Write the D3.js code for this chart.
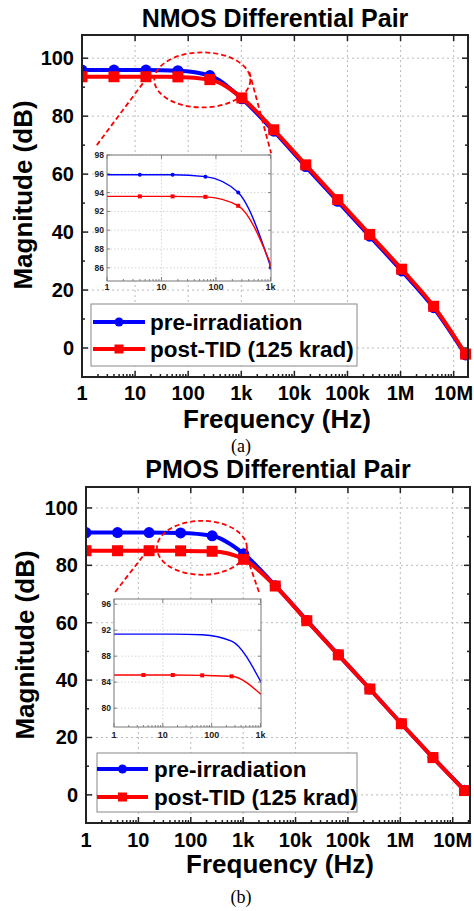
<!DOCTYPE html>
<html>
<head>
<meta charset="utf-8">
<script src="https://cdn.jsdelivr.net/npm/d3@7"></script>
<style>
  body { margin: 0; background: #fff; }
  text { font-family: "Liberation Sans", Arial, sans-serif; font-weight: bold; }
</style>
</head>
<body>
<div id="viz"></div>
<script>
// frequency points (Hz), powers of 4
var freqs = [1, 4, 16, 64, 256, 1024, 4096, 16384, 65536, 262144, 1048576, 4194304, 16777216];

// NMOS differential pair, magnitude (dB)
var nmosPre  = [95.9, 95.9, 95.9, 95.7, 94.0, 86.0, 74.8, 62.6, 50.6, 38.6, 26.6, 13.9, -2.4];
var nmosPost = [93.6, 93.6, 93.6, 93.55, 92.6, 86.3, 75.3, 63.2, 51.2, 39.2, 27.2, 14.4, -2.1];

// PMOS differential pair, magnitude (dB)
var pmosPre  = [91.4, 91.4, 91.4, 91.3, 90.3, 84.0, 72.9, 60.8, 48.8, 36.9, 24.8, 13.0, 1.6];
var pmosPost = [85.1, 85.1, 85.1, 85.05, 84.9, 82.1, 72.8, 60.7, 48.8, 36.9, 24.8, 13.0, 1.5];

var seriesNames = ["pre-irradiation", "post-TID (125 krad)"];

var xTickValues = [1, 10, 100, 1e3, 1e4, 1e5, 1e6, 1e7];
var xTickLabels = ["1", "10", "100", "1k", "10k", "100k", "1M", "10M"];
var yTicks = [0, 20, 40, 60, 80, 100];
var yMinorTicks = [10, 30, 50, 70, 90];

var insetXTickValues = [1, 10, 100, 1000];
var insetXTickLabels = ["1", "10", "100", "1k"];
var nmosInsetYTicks = [86, 88, 90, 92, 94, 96, 98];
var pmosInsetYTicks = [80, 84, 88, 92, 96];

var width = 474,
    height = 911;
var blue = "#0000ff", red = "#ff0000";

var svg = d3.select("#viz")
  .append("svg")
    .attr("width", width)
    .attr("height", height);

svg.append("rect")
    .attr("width", width)
    .attr("height", height)
    .style("fill", "white");

var panels = [
  {
    id: "n", title: "NMOS Differential Pair", caption: "(a)",
    pre: nmosPre, post: nmosPost,
    left: 82, right: 468, top: 35, bottom: 377,
    xMax: Math.pow(10, 7.27), yDomain: [-10, 108],
    titleY: 27, tickY: 400, xTitleY: 428, capY: 452, yTitleX: 23, yTitleCY: 195,
    legend: {x: 91, y: 304, w: 266, h: 62, lx0: 93, lx1: 145, tx: 150, rows: [322, 349]},
    inset: {left: 107, right: 271, top: 155, bottom: 281, yDomain: [84.6, 98], yTicks: nmosInsetYTicks,
            preMarks: [1, 2, 3, 4, 5], postMarks: [1, 2, 3, 4, 5], labelY: 290},
    ellipse: {f: [23, 1480], db: [83, 102]},
    zoomLines: [[[1.9, 70], [17, 93.4]], [[1420, 95.2], [3650, 67.2]]]
  },
  {
    id: "p", title: "PMOS Differential Pair", caption: "(b)",
    pre: pmosPre, post: pmosPost,
    left: 86, right: 470, top: 487, bottom: 823,
    xMax: Math.pow(10, 7.33), yDomain: [-9.8, 107.3],
    titleY: 478, tickY: 847, xTitleY: 873, capY: 903, yTitleX: 25, yTitleCY: 645,
    legend: {x: 97, y: 753, w: 260, h: 59, lx0: 97, lx1: 148, tx: 154, rows: [769, 797]},
    inset: {left: 114, right: 261, top: 599, bottom: 727, yDomain: [77.1, 96.8], yTicks: pmosInsetYTicks,
            preMarks: [], postMarks: [1, 2, 3, 4], labelY: 738},
    ellipse: {f: [22.6, 1180], db: [76.7, 95.5]},
    zoomLines: [[[3.6, 70.7], [16.7, 86.4]], [[1180, 82.9], [2000, 70.7]]]
  }
];

function minorLogTicks(max) {
  var out = [];
  for (var d = 0; d < 8; d++) {
    for (var k = 2; k <= 9; k++) {
      var f = k * Math.pow(10, d);
      if (f < max) out.push(f);
    }
  }
  return out;
}

function marker(sel, type, size, color) {
  if (type === "circle") {
    sel.append("circle").attr("r", size / 2).style("fill", color);
  } else {
    sel.append("rect")
      .attr("x", -size / 2).attr("y", -size / 2)
      .attr("width", size).attr("height", size)
      .style("fill", color);
  }
}

panels.forEach(function(p) {
  var g = svg.append("g");
  var x = d3.scaleLog().domain([1, p.xMax]).range([p.left, p.right]);
  var y = d3.scaleLinear().domain(p.yDomain).range([p.bottom, p.top]);

  // grid
  g.selectAll(".gx").data(xTickValues.slice(1)).enter().append("line")
    .attr("x1", function(d) { return x(d); }).attr("x2", function(d) { return x(d); })
    .attr("y1", p.top).attr("y2", p.bottom)
    .style("stroke", "#bbb").style("stroke-width", 1).style("stroke-dasharray", "2,3");
  g.selectAll(".gy").data(yTicks).enter().append("line")
    .attr("x1", p.left).attr("x2", p.right)
    .attr("y1", function(d) { return y(d); }).attr("y2", function(d) { return y(d); })
    .style("stroke", "#bbb").style("stroke-width", 1).style("stroke-dasharray", "2,3");

  // ticks, all inward
  var tk = g.append("g").style("stroke", "#222").style("stroke-width", 1.5);
  xTickValues.forEach(function(f) {
    tk.append("line").attr("x1", x(f)).attr("x2", x(f)).attr("y1", p.bottom).attr("y2", p.bottom - 6);
    tk.append("line").attr("x1", x(f)).attr("x2", x(f)).attr("y1", p.top).attr("y2", p.top + 6);
  });
  minorLogTicks(p.xMax).forEach(function(f) {
    tk.append("line").attr("x1", x(f)).attr("x2", x(f)).attr("y1", p.bottom).attr("y2", p.bottom - 3);
  });
  yTicks.forEach(function(v) {
    tk.append("line").attr("x1", p.left).attr("x2", p.left + 6).attr("y1", y(v)).attr("y2", y(v));
    tk.append("line").attr("x1", p.right).attr("x2", p.right - 6).attr("y1", y(v)).attr("y2", y(v));
  });
  yMinorTicks.forEach(function(v) {
    tk.append("line").attr("x1", p.left).attr("x2", p.left + 3).attr("y1", y(v)).attr("y2", y(v));
    tk.append("line").attr("x1", p.right).attr("x2", p.right - 3).attr("y1", y(v)).attr("y2", y(v));
  });

  // tick labels
  g.selectAll(".xl").data(xTickValues).enter().append("text")
    .attr("x", function(d) { return x(d); }).attr("y", p.tickY)
    .attr("text-anchor", "middle").style("font-size", "20px")
    .text(function(d, i) { return xTickLabels[i]; });
  g.selectAll(".yl").data(yTicks).enter().append("text")
    .attr("x", p.left - 8).attr("y", function(d) { return y(d) + 7; })
    .attr("text-anchor", "end").style("font-size", "20px")
    .text(function(d) { return d; });

  // titles
  g.append("text").attr("x", (p.left + p.right) / 2).attr("y", p.titleY)
    .attr("text-anchor", "middle").style("font-size", "25px").text(p.title);
  g.append("text").attr("x", (p.left + p.right) / 2 + 2).attr("y", p.xTitleY)
    .attr("text-anchor", "middle").style("font-size", "26px").text("Frequency (Hz)");
  g.append("text")
    .attr("transform", "translate(" + (p.yTitleX + 9) + "," + p.yTitleCY + ") rotate(-90)")
    .attr("text-anchor", "middle").style("font-size", "26px").text("Magnitude (dB)");
  g.append("text").attr("x", 241).attr("y", p.capY).attr("text-anchor", "middle")
    .style("font-family", "'Liberation Serif', 'Times New Roman', serif")
    .style("font-weight", "normal").style("font-size", "18px").text(p.caption);

  // data lines
  var clipId = "clip-" + p.id;
  svg.append("clipPath").attr("id", clipId).append("rect")
    .attr("x", p.left).attr("y", p.top - 10).attr("width", width - p.left).attr("height", p.bottom - p.top + 20);
  var line = d3.line()
    .x(function(d) { return x(d[0]); })
    .y(function(d) { return y(d[1]); })
    .curve(d3.curveMonotoneX);
  var dg = g.append("g").attr("clip-path", "url(#" + clipId + ")");
  [[p.pre, blue, "circle", 11], [p.post, red, "square", 11]].forEach(function(s) {
    var pts = freqs.map(function(f, i) { return [f, s[0][i]]; });
    dg.append("path").datum(pts).attr("d", line)
      .style("fill", "none").style("stroke", s[1]).style("stroke-width", 4);
    dg.selectAll(null).data(pts).enter().append("g")
      .attr("transform", function(d) { return "translate(" + x(d[0]) + "," + y(d[1]) + ")"; })
      .each(function() { marker(d3.select(this), s[2], s[3], s[1]); });
  });

  // frame
  g.append("rect").attr("x", p.left).attr("y", p.top)
    .attr("width", p.right - p.left).attr("height", p.bottom - p.top)
    .style("fill", "none").style("stroke", "#222").style("stroke-width", 2);

  // zoom annotation
  var e = p.ellipse;
  var ex0 = x(e.f[0]), ex1 = x(e.f[1]), ey0 = y(e.db[1]), ey1 = y(e.db[0]);
  g.append("ellipse")
    .attr("cx", (ex0 + ex1) / 2).attr("cy", (ey0 + ey1) / 2)
    .attr("rx", (ex1 - ex0) / 2).attr("ry", (ey1 - ey0) / 2)
    .style("fill", "none").style("stroke", red).style("stroke-width", 1.8).style("stroke-dasharray", "5,3");
  p.zoomLines.forEach(function(l) {
    g.append("line")
      .attr("x1", x(l[0][0])).attr("y1", y(l[0][1]))
      .attr("x2", x(l[1][0])).attr("y2", y(l[1][1]))
      .style("stroke", red).style("stroke-width", 1.8).style("stroke-dasharray", "5,3");
  });

  // inset
  var q = p.inset;
  var ig = g.append("g");
  var ix = d3.scaleLog().domain([1, 1024]).range([q.left, q.right]);
  var iy = d3.scaleLinear().domain(q.yDomain).range([q.bottom, q.top]);
  ig.append("rect").attr("x", q.left).attr("y", q.top)
    .attr("width", q.right - q.left).attr("height", q.bottom - q.top).style("fill", "white");
  ig.selectAll(".igx").data(insetXTickValues.slice(1, 3)).enter().append("line")
    .attr("x1", function(d) { return ix(d); }).attr("x2", function(d) { return ix(d); })
    .attr("y1", q.top).attr("y2", q.bottom)
    .style("stroke", "#ccc").style("stroke-width", 0.8).style("stroke-dasharray", "1.5,2");
  ig.selectAll(".igy").data(q.yTicks).enter().append("line")
    .attr("x1", q.left).attr("x2", q.right)
    .attr("y1", function(d) { return iy(d); }).attr("y2", function(d) { return iy(d); })
    .style("stroke", "#ccc").style("stroke-width", 0.8).style("stroke-dasharray", "1.5,2");
  var itk = ig.append("g").style("stroke", "#666").style("stroke-width", 0.8);
  insetXTickValues.forEach(function(f) {
    itk.append("line").attr("x1", ix(f)).attr("x2", ix(f)).attr("y1", q.bottom).attr("y2", q.bottom - 4);
    itk.append("line").attr("x1", ix(f)).attr("x2", ix(f)).attr("y1", q.top).attr("y2", q.top + 4);
  });
  minorLogTicks(1000).forEach(function(f) {
    itk.append("line").attr("x1", ix(f)).attr("x2", ix(f)).attr("y1", q.bottom).attr("y2", q.bottom - 2);
  });
  q.yTicks.forEach(function(v) {
    itk.append("line").attr("x1", q.left).attr("x2", q.left + 3).attr("y1", iy(v)).attr("y2", iy(v));
    itk.append("line").attr("x1", q.right).attr("x2", q.right - 3).attr("y1", iy(v)).attr("y2", iy(v));
  });
  ig.selectAll(".ixl").data(insetXTickValues).enter().append("text")
    .attr("x", function(d) { return ix(d); }).attr("y", q.labelY)
    .attr("text-anchor", "middle").style("font-size", "9px").style("fill", "#222")
    .text(function(d, i) { return insetXTickLabels[i]; });
  ig.selectAll(".iyl").data(q.yTicks).enter().append("text")
    .attr("x", q.left - 3).attr("y", function(d) { return iy(d) + 3; })
    .attr("text-anchor", "end").style("font-size", "8.5px").style("fill", "#222")
    .text(function(d) { return d; });

  var iclip = "iclip-" + p.id;
  svg.append("clipPath").attr("id", iclip).append("rect")
    .attr("x", q.left).attr("y", q.top).attr("width", q.right - q.left).attr("height", q.bottom - q.top);
  var iline = d3.line()
    .x(function(d) { return ix(d[0]); })
    .y(function(d) { return iy(d[1]); })
    .curve(d3.curveMonotoneX);
  var idg = ig.append("g").attr("clip-path", "url(#" + iclip + ")");
  [[p.pre, blue, "circle", q.preMarks], [p.post, red, "square", q.postMarks]].forEach(function(s) {
    var pts = freqs.slice(0, 6).map(function(f, i) { return [f, s[0][i]]; });
    idg.append("path").datum(pts).attr("d", iline)
      .style("fill", "none").style("stroke", s[1]).style("stroke-width", 1.4);
    idg.selectAll(null).data(s[3].map(function(i) { return pts[i]; })).enter().append("g")
      .attr("transform", function(d) { return "translate(" + ix(d[0]) + "," + iy(d[1]) + ")"; })
      .each(function() { marker(d3.select(this), s[2], 4, s[1]); });
  });
  ig.append("rect").attr("x", q.left).attr("y", q.top)
    .attr("width", q.right - q.left).attr("height", q.bottom - q.top)
    .style("fill", "none").style("stroke", "#777").style("stroke-width", 1);

  // legend
  var L = p.legend;
  var lg = g.append("g");
  lg.append("rect").attr("x", L.x).attr("y", L.y).attr("width", L.w).attr("height", L.h)
    .style("fill", "white").style("stroke", "#888").style("stroke-width", 1);
  [[blue, "circle", 9], [red, "square", 9]].forEach(function(s, i) {
    var cy = L.rows[i];
    lg.append("line").attr("x1", L.lx0).attr("x2", L.lx1).attr("y1", cy).attr("y2", cy)
      .style("stroke", s[0]).style("stroke-width", 4);
    var m = lg.append("g").attr("transform", "translate(" + (L.lx0 + L.lx1) / 2 + "," + cy + ")");
    marker(m, s[1], s[2], s[0]);
    lg.append("text").attr("x", L.tx).attr("y", cy + 8)
      .style("font-size", "22.5px").text(seriesNames[i]);
  });
});
</script>
</body>
</html>
